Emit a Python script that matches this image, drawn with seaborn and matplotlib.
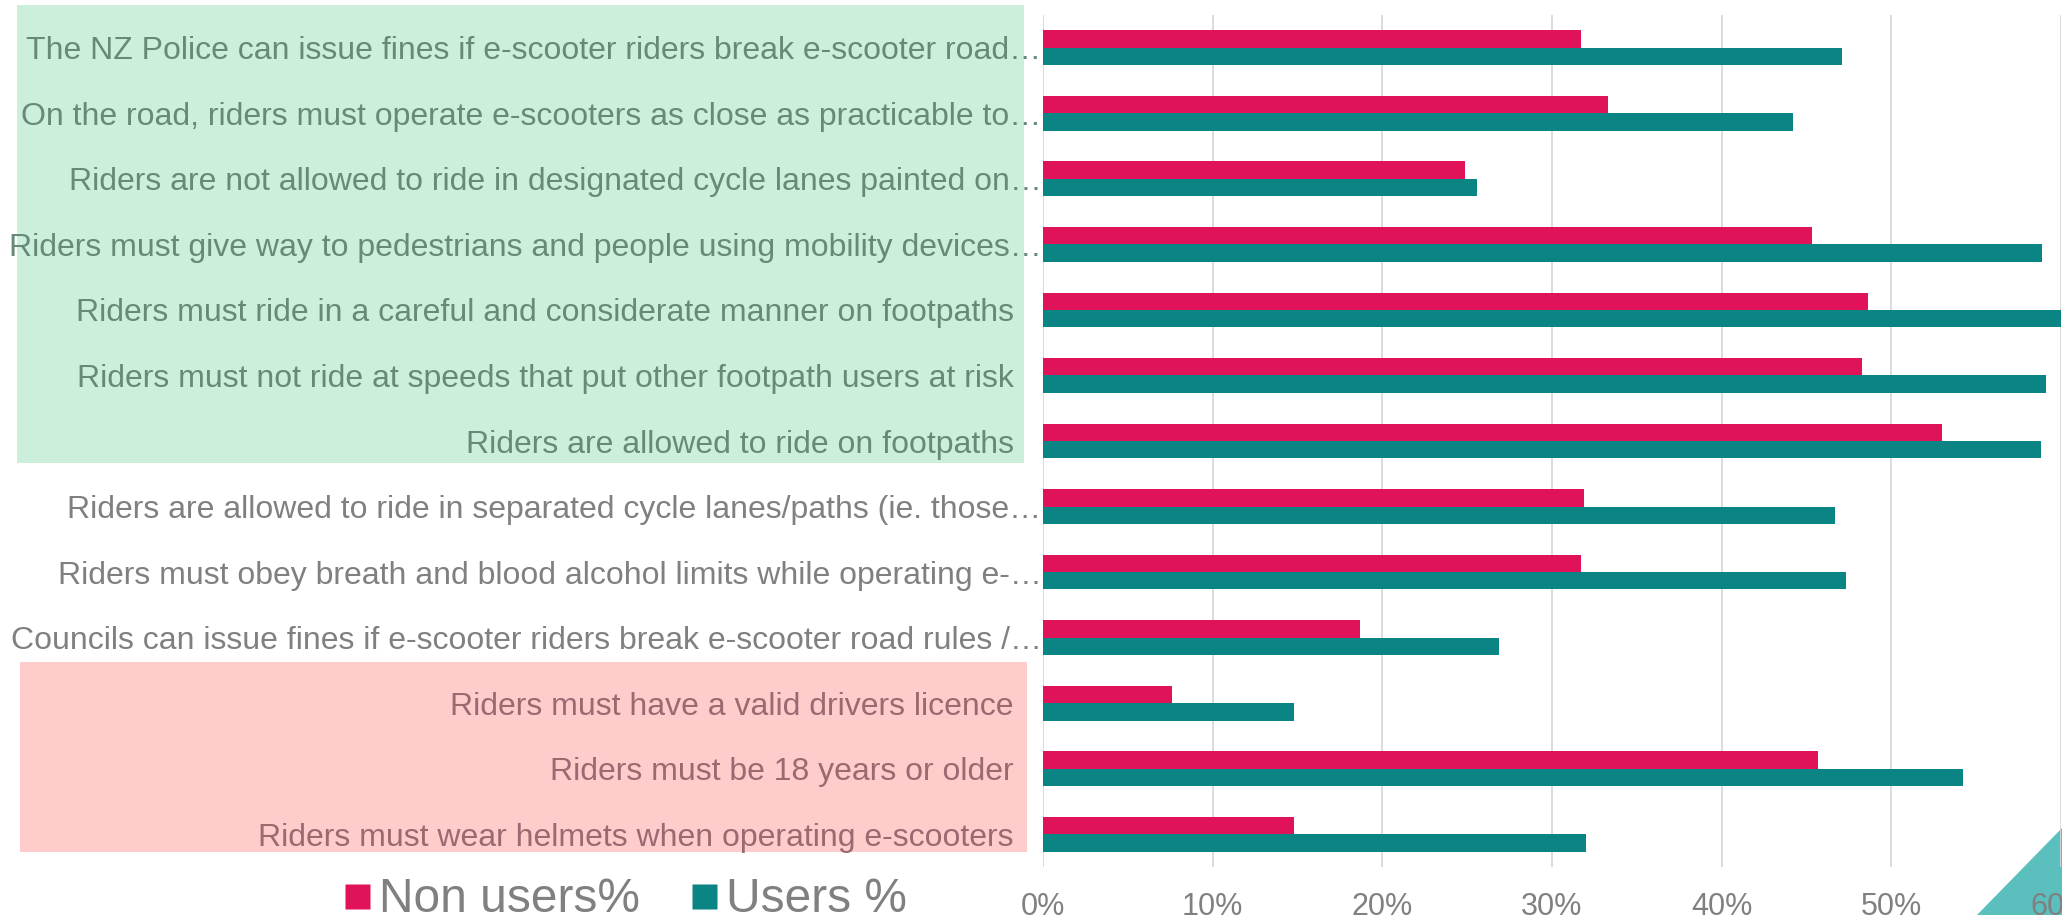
import matplotlib
matplotlib.use("Agg")
import matplotlib.pyplot as plt
from matplotlib.patches import Rectangle, Polygon
from matplotlib.lines import Line2D
import seaborn as sns
import pandas as pd

rules = [
    "The NZ Police can issue fines if e-scooter riders break e-scooter road\u2026",
    "On the road, riders must operate e-scooters as close as practicable to\u2026",
    "Riders are not allowed to ride in designated cycle lanes painted on\u2026",
    "Riders must give way to pedestrians and people using mobility devices\u2026",
    "Riders must ride in a careful and considerate manner on footpaths",
    "Riders must not ride at speeds that put other footpath users at risk",
    "Riders are allowed to ride on footpaths",
    "Riders are allowed to ride in separated cycle lanes/paths (ie. those\u2026",
    "Riders must obey breath and blood alcohol limits while operating e-\u2026",
    "Councils can issue fines if e-scooter riders break e-scooter road rules /\u2026",
    "Riders must have a valid drivers licence",
    "Riders must be 18 years or older",
    "Riders must wear helmets when operating e-scooters",
]
non_users = [31.7, 33.3, 24.9, 45.3, 48.6, 48.3, 53.0, 31.9, 31.7, 18.7, 7.6, 45.7, 14.8]
users = [47.1, 44.2, 25.6, 58.9, 60.2, 59.1, 58.8, 46.7, 47.3, 26.9, 14.8, 54.2, 32.0]
series_names = ["Non users%", "Users %"]
xticks = [0, 10, 20, 30, 40, 50, 60]
xtick_labels = ["0%", "10%", "20%", "30%", "40%", "50%", "60%"]

df = pd.DataFrame({
    "rule": rules * 2,
    "value": non_users + users,
    "group": [series_names[0]] * len(rules) + [series_names[1]] * len(rules),
})

PINK = "#e0125a"
TEAL = "#0a8583"
GRAY = "#808080"

sns.set_theme(style="white")
plt.rcParams["font.family"] = ["Liberation Sans", "DejaVu Sans"]

W, H = 2062, 915
fig = plt.figure(figsize=(W / 100, H / 100), dpi=100)
fig.patch.set_facecolor("white")

def fx(px):
    return px / W

def fy(py):
    return 1 - py / H

# background boxes
fig.patches.append(Rectangle((fx(17), fy(463)), fx(1024 - 17), (463 - 5) / H,
                             transform=fig.transFigure, facecolor="#ccefdc",
                             edgecolor="none", zorder=-2))
fig.patches.append(Rectangle((fx(20), fy(852)), fx(1027 - 20), (852 - 662) / H,
                             transform=fig.transFigure, facecolor="#ffcccc",
                             edgecolor="none", zorder=-2))
# decorative triangle
fig.patches.append(Polygon([(fx(1977), 0), (1, fy(828)), (1, 0)], closed=True,
                           transform=fig.transFigure, facecolor="#5bbfbe",
                           edgecolor="none", zorder=-1))

ax = fig.add_axes([fx(1043), (H - 867) / H, fx(2061 - 1043), (867 - 15) / H])
ax.set_facecolor("none")

sns.barplot(data=df, y="rule", x="value", hue="group", orient="y",
            hue_order=series_names, palette=[PINK, TEAL], width=0.53,
            saturation=1, ax=ax, legend=False, edgecolor="none", linewidth=0)

ax.set_xlim(0, 60)
ax.set_xticks(xticks)
ax.set_xticklabels(xtick_labels)
ax.grid(axis="x", color="#d9d9d9", linewidth=1.3)
ax.set_axisbelow(True)
for s in ax.spines.values():
    s.set_visible(False)
ax.set_xlabel("")
ax.set_ylabel("")
ax.tick_params(axis="x", length=0, pad=18, labelsize=22, labelcolor=GRAY)
ax.tick_params(axis="y", length=0, labelsize=23)

green_txt = "#678a78"
pink_txt = "#9a6a70"
for i, (lab, tick) in enumerate(zip(ax.get_yticklabels(), ax.yaxis.get_major_ticks())):
    if i <= 6:
        lab.set_color(green_txt)
    elif i >= 10:
        lab.set_color(pink_txt)
    else:
        lab.set_color(GRAY)
    if rules[i].endswith("\u2026"):
        tick.set_pad(1)
    else:
        tick.set_pad(21)

handles = [Line2D([0], [0], marker="s", linestyle="none", markersize=18,
                  markerfacecolor=c, markeredgecolor="none") for c in (PINK, TEAL)]
leg = fig.legend(handles, series_names, loc="center left",
                 bbox_to_anchor=(fx(345), fy(900)), bbox_transform=fig.transFigure,
                 ncol=2, frameon=False, fontsize=34.5, handlelength=0.5,
                 handletextpad=0.2, columnspacing=1.1, borderpad=0, borderaxespad=0)
for t in leg.get_texts():
    t.set_color(GRAY)

fig.savefig("out.png", dpi=100)
